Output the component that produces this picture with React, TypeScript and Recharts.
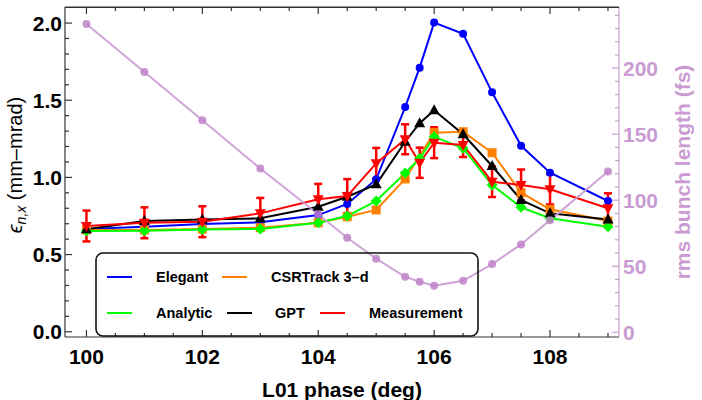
import React from 'react';
import { ComposedChart, Line, XAxis, YAxis, ErrorBar, ReferenceLine } from 'recharts';

// L01 phase (deg)
const phase = [100, 101, 102, 103, 104, 104.5, 105, 105.5, 105.75, 106, 106.5, 107, 107.5, 108, 109];
// normalized emittance (mm-mrad)
const elegant = [0.665, 0.68, 0.698, 0.709, 0.756, 0.828, 0.988, 1.456, 1.711, 2.003, 1.931, 1.551, 1.205, 1.03, 0.847];
const csrtrack = [0.66, 0.66, 0.665, 0.674, 0.706, 0.745, 0.789, 0.99, null, 1.29, 1.296, 1.16, 0.901, 0.793, 0.717];
const analytic = [0.652, 0.655, 0.662, 0.666, 0.706, 0.75, 0.847, 1.028, 1.122, 1.264, 1.189, 0.951, 0.806, 0.735, 0.68];
const gpt = [0.664, 0.717, 0.728, 0.735, 0.81, 0.875, 0.955, 1.231, 1.351, 1.435, 1.279, 1.074, 0.854, 0.767, 0.728];
const measurement = [0.685, 0.706, 0.713, 0.767, 0.858, 0.879, 1.091, 1.247, 1.095, 1.225, 1.21, 0.972, 0.951, 0.923, 0.8];
const measurementErr = [0.1, 0.1, 0.1, 0.1, 0.1, 0.11, 0.1, 0.097, 0.098, 0.1, 0.078, 0.099, 0.1, 0.098, 0.097];
// rms bunch length (fs)
const bunchLength = [233.5, 197, 160.5, 124, 89.4, 71.5, 55.7, 42, 38.2, 35.2, 39, 51.6, 66.5, 84.9, 121.7];

const xTicks = [100, 100.5, 101, 101.5, 102, 102.5, 103, 103.5, 104, 104.5, 105, 105.5, 106, 106.5, 107, 107.5, 108, 108.5, 109];
const xMajor = [100, 102, 104, 106, 108];
const yTicks = [0, 0.1, 0.2, 0.3, 0.4, 0.5, 0.6, 0.7, 0.8, 0.9, 1.0, 1.1, 1.2, 1.3, 1.4, 1.5, 1.6, 1.7, 1.8, 1.9, 2.0];
const yMajor = [0, 0.5, 1.0, 1.5, 2.0];
const rTicks = [0, 10, 20, 30, 40, 50, 60, 70, 80, 90, 100, 110, 120, 130, 140, 150, 160, 170, 180, 190, 200, 210, 220, 230, 240];
const rMajor = [0, 50, 100, 150, 200];

const X_DOMAIN = [99.63, 109.19];
const Y_DOMAIN = [-0.034, 2.104];
const R_DOMAIN = [-3.6, 246.3];

const legendRow1 = [
  { name: 'Elegant', color: '#0000ff' },
  { name: 'CSRTrack 3\u2013d', color: '#ff8000' },
];
const legendRow2 = [
  { name: 'Analytic', color: '#00ff00' },
  { name: 'GPT', color: '#000000' },
  { name: 'Measurement', color: '#ff0000' },
];

const rows = phase.map((p, i) => ({
  phase: p,
  elegant: elegant[i],
  csrtrack: csrtrack[i],
  analytic: analytic[i],
  gpt: gpt[i],
  measurement: measurement[i],
  err: measurementErr[i],
  bunch: bunchLength[i],
}));

const FONT = '"Liberation Sans", Arial, sans-serif';
const FRAME = '#333';
const PINK = '#c99bd2';
const PINK_TEXT = '#c99bd2';
const PLOT_H = 330; // frame height, used for the mirrored top ticks

const isIn = (list: number[], v: number) => list.some(m => Math.abs(m - v) < 1e-6);

const BottomTick = (props: any) => {
  const { x, y, payload } = props;
  const major = isIn(xMajor, payload.value);
  const len = major ? 7 : 4;
  return (
    <g>
      <line x1={x} y1={y} x2={x} y2={y - len} stroke={FRAME} strokeWidth={1.2} />
      <line x1={x} y1={y - PLOT_H} x2={x} y2={y - PLOT_H + len} stroke={FRAME} strokeWidth={1.2} />
      {major && (
        <text x={x} y={y + 26.5} textAnchor="middle" fontFamily={FONT} fontWeight="bold" fontSize={21} fill="#000">
          {payload.value}
        </text>
      )}
    </g>
  );
};

const LeftTick = (props: any) => {
  const { x, y, payload } = props;
  const major = isIn(yMajor, payload.value);
  return (
    <g>
      <line x1={x} y1={y} x2={x + (major ? 7 : 4)} y2={y} stroke={FRAME} strokeWidth={1.2} />
      {major && (
        <text x={x - 3} y={y + 7.5} textAnchor="end" fontFamily={FONT} fontWeight="bold" fontSize={21} fill="#000">
          {payload.value.toFixed(1)}
        </text>
      )}
    </g>
  );
};

const RightTick = (props: any) => {
  const { x, y, payload } = props;
  const major = isIn(rMajor, payload.value);
  return (
    <g>
      <line x1={x} y1={y} x2={x - (major ? 7 : 4)} y2={y} stroke={PINK} strokeWidth={1.2} />
      {major && (
        <text x={x + 4} y={y + 7.5} textAnchor="start" fontFamily={FONT} fontWeight="bold" fontSize={21} fill={PINK_TEXT}>
          {payload.value}
        </text>
      )}
    </g>
  );
};

const CircleDot = (color: string, r: number, opacity = 1) => (props: any) => {
  const { cx, cy, index } = props;
  if (cx == null || cy == null) return <g key={index} />;
  return <circle key={index} cx={cx} cy={cy} r={r} fill={color} fillOpacity={opacity} />;
};

const SquareDot = (props: any) => {
  const { cx, cy, index } = props;
  if (cx == null || cy == null || props.value == null) return <g key={index} />;
  return <rect key={index} x={cx - 4.5} y={cy - 4.5} width={9} height={9} fill="#ff8000" />;
};

const DiamondDot = (props: any) => {
  const { cx, cy, index } = props;
  if (cx == null || cy == null) return <g key={index} />;
  const s = 5.5;
  return <polygon key={index} points={`${cx},${cy - s} ${cx + s},${cy} ${cx},${cy + s} ${cx - s},${cy}`} fill="#00ff00" />;
};

const TriUp = (props: any) => {
  const { cx, cy, index } = props;
  if (cx == null || cy == null) return <g key={index} />;
  return <polygon key={index} points={`${cx},${cy - 6} ${cx + 5.5},${cy + 4} ${cx - 5.5},${cy + 4}`} fill="#000" />;
};

const TriDown = (props: any) => {
  const { cx, cy, index } = props;
  if (cx == null || cy == null) return <g key={index} />;
  return <polygon key={index} points={`${cx},${cy + 6} ${cx + 5.5},${cy - 4} ${cx - 5.5},${cy - 4}`} fill="#ff0000" />;
};

function LegendBox() {
  const textStyle = { fontFamily: FONT, fontWeight: 'bold' as const, fontSize: 14.5 };
  const row1X = [{ line: 12, text: 61 }, { line: 127, text: 176 }];
  const row2X = [{ line: 12, text: 61 }, { line: 132, text: 180 }, { line: 225, text: 274 }];
  return (
    <svg
      width={384}
      height={85}
      style={{ position: 'absolute', left: 95, top: 252, overflow: 'visible' }}
    >
      <rect x={1} y={1} width={382} height={83} rx={7} ry={7} fill="none" stroke="#111" strokeWidth={1.6} />
      {legendRow1.map((e, i) => (
        <g key={e.name}>
          <line x1={row1X[i].line} x2={row1X[i].line + 25} y1={25} y2={25} stroke={e.color} strokeWidth={2} />
          <text x={row1X[i].text} y={30} {...textStyle} fill="#000">{e.name}</text>
        </g>
      ))}
      {legendRow2.map((e, i) => (
        <g key={e.name}>
          <line x1={row2X[i].line} x2={row2X[i].line + 25} y1={61} y2={61} stroke={e.color} strokeWidth={2} />
          <text x={row2X[i].text} y={66} {...textStyle} fill="#000">{e.name}</text>
        </g>
      ))}
    </svg>
  );
}

// top edge of the frame, drawn as a plain overlay
function TopFrame() {
  return (
    <svg width={702} height={12} style={{ position: 'absolute', left: 0, top: 0, pointerEvents: 'none' }}>
      <line x1={65} x2={619} y1={7.5} y2={7.5} stroke={FRAME} strokeWidth={1.2} />
    </svg>
  );
}

export default function App() {
  return (
    <div style={{ position: 'absolute', left: 0, top: 0, width: 702, height: 400, background: '#fff' }}>
      <ComposedChart width={702} height={400} data={rows} margin={{ top: 7, right: 0, bottom: 0, left: 0 }}>
        <XAxis
          dataKey="phase"
          type="number"
          domain={X_DOMAIN}
          allowDataOverflow
          ticks={xTicks}
          interval={0}
          height={63}
          tickSize={0}
          tickLine={false}
          tickMargin={0}
          axisLine={{ stroke: FRAME, strokeWidth: 1.2 }}
          tick={<BottomTick />}
          label={{
            content: () => (
              <text x={342} y={397} textAnchor="middle" fontFamily={FONT} fontWeight="bold" fontSize={21} fill="#000">
                L01 phase (deg)
              </text>
            ),
          }}
        />
        <YAxis
          yAxisId="left"
          type="number"
          domain={Y_DOMAIN}
          allowDataOverflow
          ticks={yTicks}
          interval={0}
          width={65}
          tickSize={0}
          tickLine={false}
          tickMargin={0}
          axisLine={{ stroke: FRAME, strokeWidth: 1.2 }}
          tick={<LeftTick />}
          label={{
            content: () => (
              <text transform="rotate(-90)" x={-165} y={22} textAnchor="middle" fontFamily={FONT} fontSize={20} fill="#000">
                <tspan fontStyle="italic">{'\u03f5'}</tspan>
                <tspan fontStyle="italic" fontSize={14} dy={4}>n,x</tspan>
                <tspan dy={-4}> (mm{'\u2013'}mrad)</tspan>
              </text>
            ),
          }}
        />
        <YAxis
          yAxisId="right"
          orientation="right"
          type="number"
          domain={R_DOMAIN}
          allowDataOverflow
          ticks={rTicks}
          interval={0}
          width={83}
          tickSize={0}
          tickLine={false}
          tickMargin={0}
          axisLine={{ stroke: PINK, strokeWidth: 1.2 }}
          tick={<RightTick />}
          label={{
            content: () => (
              <text transform="rotate(-90)" x={-172} y={690} textAnchor="middle" fontFamily={FONT} fontWeight="bold" fontSize={21} fill={PINK_TEXT}>
                rms bunch length (fs)
              </text>
            ),
          }}
        />
        <ReferenceLine yAxisId="left" y={Y_DOMAIN[1]} stroke={FRAME} strokeWidth={1.2} ifOverflow="visible" />
        <Line yAxisId="left" dataKey="elegant" stroke="#0000ff" strokeWidth={2} dot={CircleDot('#0000ff', 4)} activeDot={false} isAnimationActive={false} />
        <Line yAxisId="left" dataKey="csrtrack" stroke="#ff8000" strokeWidth={2} connectNulls dot={SquareDot} activeDot={false} isAnimationActive={false} />
        <Line yAxisId="left" dataKey="analytic" stroke="#00ff00" strokeWidth={2} dot={DiamondDot} activeDot={false} isAnimationActive={false} />
        <Line yAxisId="left" dataKey="gpt" stroke="#000000" strokeWidth={2} dot={TriUp} activeDot={false} isAnimationActive={false} />
        <Line yAxisId="left" dataKey="measurement" stroke="#ff0000" strokeWidth={2} dot={TriDown} activeDot={false} isAnimationActive={false}>
          <ErrorBar dataKey="err" direction="y" width={4} stroke="#ff0000" strokeWidth={2.5} isAnimationActive={false} />
        </Line>
        <Line yAxisId="right" dataKey="bunch" stroke={PINK} strokeWidth={2} strokeOpacity={0.9} dot={CircleDot('#bf82c9', 4, 0.85)} activeDot={false} isAnimationActive={false} />
      </ComposedChart>
      <TopFrame />
      <LegendBox />
    </div>
  );
}
